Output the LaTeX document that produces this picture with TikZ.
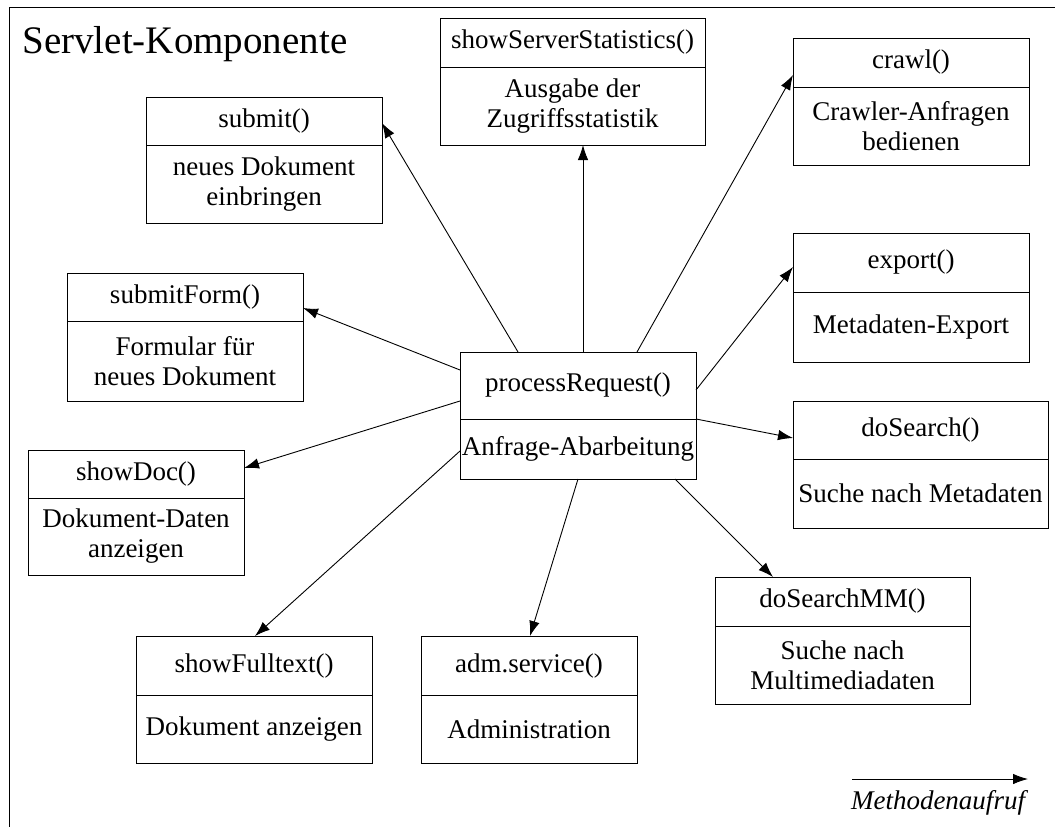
\documentclass[tikz,border=0pt]{standalone}
\usepackage{fontspec}
\setmainfont{Liberation Serif}
\usetikzlibrary{arrows.meta}

\begin{document}
\begin{tikzpicture}[x=1pt, y=-1pt, >={Latex[length=15pt,width=10.5pt]}, line width=0.9pt,
    box/.style={draw, anchor=north west, inner sep=0pt, outer sep=0pt},
    txt/.style={font=\fontsize{27}{30}\selectfont, align=center, inner sep=0pt},
    call/.style={->}]
    \useasboundingbox (0,0) rectangle (1055,827);
    \draw (1060,7) -- (9,7) -- (9,832);
    \node[anchor=base west, inner sep=0pt, font=\fontsize{39}{44}\selectfont] (title) at (22,53) {Servlet-Komponente};

    % Methoden: Name/links/oben/rechts/Teiler/unten/Kopf/Text
    \foreach \n/\l/\t/\r/\d/\b/\h/\c in {
        pr/460/352/696/419/479/processRequest()/Anfrage-Abarbeitung,
        submit/146/97/382/145/223/submit()/{neues Dokument\\einbringen},
        stats/440/18/705/67/145/showServerStatistics()/{Ausgabe der\\Zugriffsstatistik},
        crawl/793/38/1029/87/165/crawl()/{Crawler-Anfragen\\bedienen},
        export/793/233/1029/292/362/export()/Metadaten-Export,
        search/793/401/1048/459/528/doSearch()/Suche nach Metadaten,
        searchmm/715/577/970/626/704/doSearchMM()/{Suche nach\\Multimediadaten},
        adm/421/636/637/695/763/adm.service()/Administration,
        fulltext/136/636/372/695/763/showFulltext()/Dokument anzeigen,
        doc/28/450/244/498/575/showDoc()/{Dokument-Daten\\anzeigen},
        form/67/273/303/321/401/submitForm()/{Formular f\"ur\\neues Dokument}}{
        \node[box, minimum width=\r-\l, minimum height=\b-\t] (\n) at (\l,\t) {};
        \draw (\l,\d) -- (\r,\d);
        \node[txt] (\n-head) at ({(\l+\r)/2},{(\t+\d)/2}) {\h};
        \node[txt] (\n-body) at ({(\l+\r)/2},{(\d+\b)/2}) {\c};
    }

    \draw[call] ([xshift=58pt]pr.north west) -- ([yshift=-26pt]submit.north east);
    \draw[call] ([xshift=5pt]pr.north) -- ([xshift=5pt]pr.north |- stats.south);
    \draw[call] ([xshift=-59pt]pr.north east) -- ([yshift=-37pt]crawl.north west);
    \draw[call] ([yshift=-38pt]pr.north east) -- ([yshift=-34pt]export.north west);
    \draw[call] ([yshift=-67pt]pr.north east) -- ([yshift=-37pt]search.north west);
    \draw[call] ([xshift=-21pt]pr.south east) -- ([xshift=58pt]searchmm.north west);
    \draw[call] (pr.south) -- ([xshift=109pt]adm.north west);
    \draw[call] ([yshift=28pt]pr.south west) -- ([xshift=119pt]fulltext.north west);
    \draw[call] ([yshift=-49pt]pr.north west) -- ([yshift=-18pt]doc.north east);
    \draw[call] ([yshift=-18pt]pr.north west) -- ([yshift=-35pt]form.north east);

    \coordinate (leg-a) at (852,779);
    \coordinate (leg-b) at (1028,779);
    \draw[call] (leg-a) -- (leg-b);
    \node[anchor=base, inner sep=0pt, font=\fontsize{27}{30}\selectfont\itshape] (legend) at (938,809) {Methodenaufruf};
\end{tikzpicture}
\end{document}
